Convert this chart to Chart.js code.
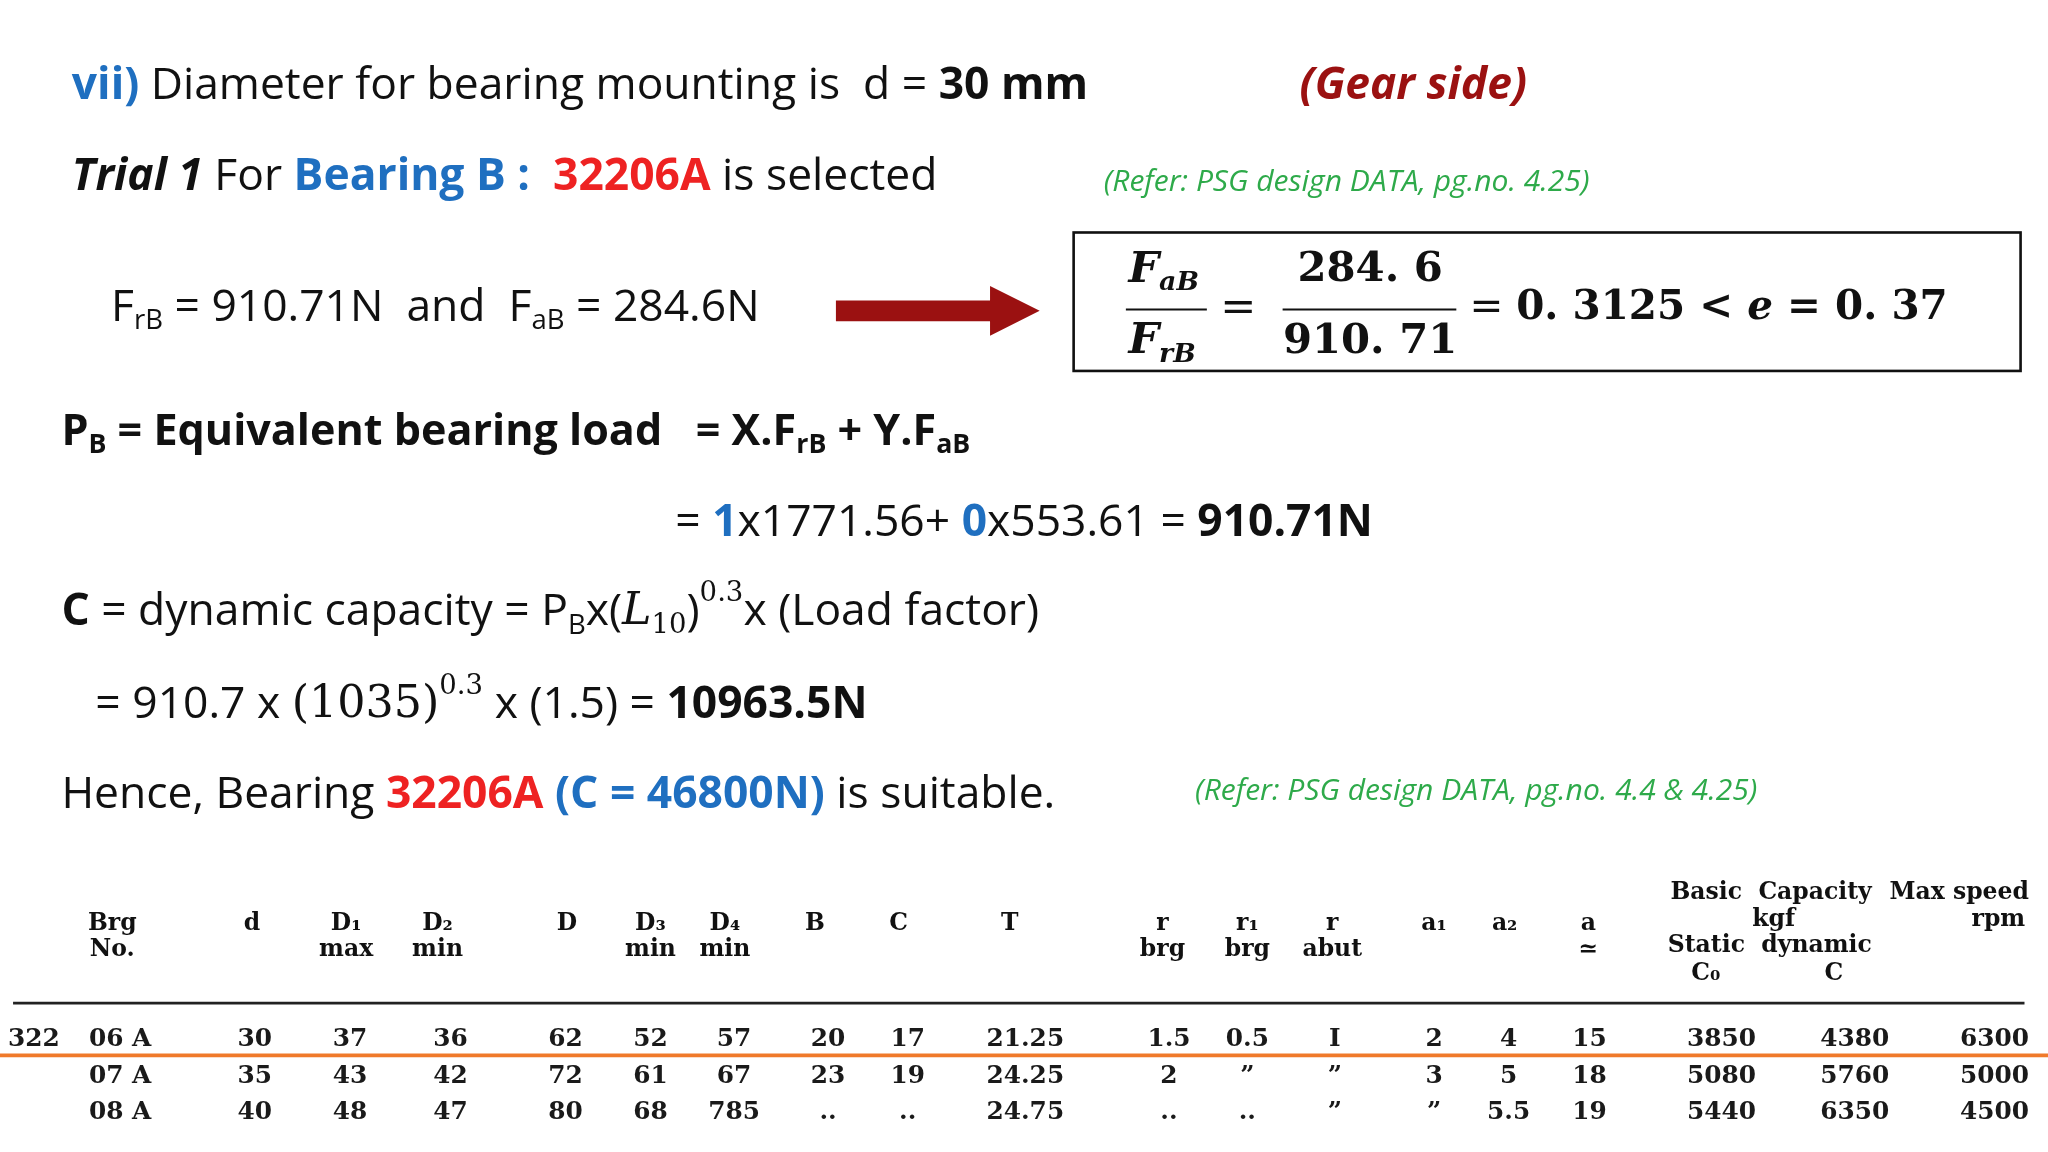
<!DOCTYPE html>
<html>
<head>
<meta charset="utf-8">
<script src="https://cdn.jsdelivr.net/npm/chart.js@4.4.1/dist/chart.umd.min.js"></script>
<style>
  html, body { margin: 0; padding: 0; background: #fff; }
  #wrap { width: 2048px; height: 1152px; }
</style>
</head>
<body>
<div id="wrap"><canvas id="slide"></canvas></div>
<script>
// bearing table rows (PSG data book, series 322)
const seriesNo = ["322", "", ""];
const boreCode = ["06 A", "07 A", "08 A"];
const dBore = ["30", "35", "40"];
const D1max = ["37", "43", "48"];
const D2min = ["36", "42", "47"];
const Douter = ["62", "72", "80"];
const D3min = ["52", "61", "68"];
const D4min = ["57", "67", "785"];
const Bw = ["20", "23", ".."];
const Cw = ["17", "19", ".."];
const Tw = ["21.25", "24.25", "24.75"];
const rBrg = ["1.5", "2", ".."];
const r1Brg = ["0.5", "\u201D", ".."];
const rAbut = ["I", "\u201D", "\u201D"];
const a1 = ["2", "3", "\u201D"];
const a2 = ["4", "5", "5.5"];
const aApprox = ["15", "18", "19"];
const staticC0 = ["3850", "5080", "5440"];
const dynamicC = ["4380", "5760", "6350"];
const maxSpeed = ["6300", "5000", "4500"];

const tableCols = [seriesNo, boreCode, dBore, D1max, D2min, Douter, D3min, D4min, Bw, Cw, Tw,
  rBrg, r1Brg, rAbut, a1, a2, aApprox, staticC0, dynamicC, maxSpeed];
const colX = [26, 92, 195, 268, 345, 433, 498, 562, 634, 695, 785, 895, 955, 1022, 1098, 1155, 1217, 1318, 1420, 1527];
const rowY = [796, 824, 852];

const BLUE = "#1f6fc0", RED = "#ee2222", DRED = "#9b1111", GREEN = "#2eaa4a";
const SANS = "'Open Sans', sans-serif";
const SERIF = "'DejaVu Serif', 'Liberation Serif', serif";

let sx, sy, k; // value -> pixel helpers, font scale

function rich(ctx, x, y, segs, size) {
  // segs: [text, {b, i, c, sub, sup, font}]
  let cx = sx(x);
  segs.forEach(([t, o]) => {
    o = o || {};
    let fs = size * ((o.sub || o.sup) ? 0.62 : 1);
    ctx.font = (o.i ? "italic " : "") + (o.b ? "bold " : "") + (fs * k) + "px " + (o.font || SANS);
    ctx.fillStyle = o.c || "#111";
    let dy = o.sub ? size * 0.3 : o.sup ? -size * 0.42 : 0;
    ctx.textBaseline = "middle";
    ctx.textAlign = "left";
    ctx.fillText(t, cx, sy(y + dy));
    cx += ctx.measureText(t).width;
  });
}

function txt(ctx, x, y, t, size, opts) {
  opts = opts || {};
  ctx.font = (opts.i ? "italic " : "") + (opts.b ? "bold " : "") + (size * k) + "px " + (opts.font || SANS);
  ctx.fillStyle = opts.c || "#111";
  ctx.textAlign = opts.align || "center";
  ctx.textBaseline = "middle";
  ctx.fillText(t, sx(x), sy(y));
}

const slidePlugin = {
  id: "slide",
  afterDraw(chart) {
    const ctx = chart.ctx, xs = chart.scales.x, ys = chart.scales.y;
    sx = v => xs.getPixelForValue(v);
    sy = v => ys.getPixelForValue(v);
    k = (sx(1568) - sx(0)) / 1568;
    ctx.save();

    rich(ctx, 55, 66, [["vii)", {b: 1, c: BLUE}], [" Diameter for bearing mounting is  d = "], ["30 mm", {b: 1}]], 34);
    rich(ctx, 995, 66, [["(Gear side)", {b: 1, i: 1, c: DRED}]], 34);

    rich(ctx, 55, 136, [["Trial 1", {b: 1, i: 1}], [" For "], ["Bearing B : ", {b: 1, c: BLUE}], [" 32206A", {b: 1, c: RED}], [" is selected"]], 34);
    rich(ctx, 845, 140, [["(Refer: PSG design DATA, pg.no. 4.25)", {i: 1, c: GREEN}]], 23);

    rich(ctx, 85, 236, [["F"], ["rB", {sub: 1}], [" = 910.71N  and  F"], ["aB", {sub: 1}], [" = 284.6N"]], 34);

    // arrow
    ctx.fillStyle = DRED;
    ctx.beginPath();
    ctx.moveTo(sx(640), sy(230)); ctx.lineTo(sx(758), sy(230)); ctx.lineTo(sx(758), sy(219));
    ctx.lineTo(sx(796), sy(238)); ctx.lineTo(sx(758), sy(257)); ctx.lineTo(sx(758), sy(246));
    ctx.lineTo(sx(640), sy(246)); ctx.closePath(); ctx.fill();

    // formula box
    ctx.strokeStyle = "#111"; ctx.lineWidth = 2 * k;
    ctx.strokeRect(sx(822), sy(178), sx(1547) - sx(822), sy(284) - sy(178));
    ctx.lineWidth = 1.5 * k;
    ctx.beginPath(); ctx.moveTo(sx(862), sy(237)); ctx.lineTo(sx(924), sy(237));
    ctx.moveTo(sx(982), sy(237)); ctx.lineTo(sx(1115), sy(237)); ctx.stroke();
    rich(ctx, 864, 207, [["F", {b: 1, i: 1, font: SERIF}], ["aB", {b: 1, i: 1, font: SERIF, sub: 1}]], 33);
    rich(ctx, 864, 262, [["F", {b: 1, i: 1, font: SERIF}], ["rB", {b: 1, i: 1, font: SERIF, sub: 1}]], 33);
    txt(ctx, 948, 237, "=", 33, {font: SERIF});
    txt(ctx, 1049, 207, "284. 6", 32, {b: 1, font: SERIF});
    txt(ctx, 1049, 262, "910. 71", 32, {b: 1, font: SERIF});
    rich(ctx, 1125, 236, [["= ", {font: SERIF}], ["0. 3125 < ", {b: 1, font: SERIF}], ["e", {b: 1, i: 1, font: SERIF}], [" = 0. 37", {b: 1, font: SERIF}]], 31);

    rich(ctx, 47, 331, [["P", {b: 1}], ["B", {b: 1, sub: 1}], [" = Equivalent bearing load   = X.F", {b: 1}], ["rB", {b: 1, sub: 1}], [" + Y.F", {b: 1}], ["aB", {b: 1, sub: 1}]], 33);
    rich(ctx, 517, 401, [["= "], ["1", {c: BLUE, b: 1}], ["x1771.56+ "], ["0", {c: BLUE, b: 1}], ["x553.61 = "], ["910.71N", {b: 1}]], 34);
    rich(ctx, 47, 469, [["C", {b: 1}], [" = dynamic capacity = P"], ["B", {sub: 1}], ["x("], ["L", {i: 1, font: SERIF}], ["10", {sub: 1, font: SERIF}], [")"], ["0.3", {sup: 1, font: SERIF}], ["x (Load factor)"]], 34);
    rich(ctx, 73, 540, [["= 910.7 x "], ["(1035)", {font: SERIF}], ["0.3", {sup: 1, font: SERIF}], [" x (1.5) = "], ["10963.5N", {b: 1}]], 34);
    rich(ctx, 47, 609, [["Hence, Bearing "], ["32206A", {b: 1, c: RED}], [" (C = 46800N)", {b: 1, c: BLUE}], [" is suitable."]], 34);
    rich(ctx, 915, 606, [["(Refer: PSG design DATA, pg.no. 4.4 & 4.25)", {i: 1, c: GREEN}]], 23);

    // table headers
    const H = {b: 1, font: SERIF};
    const hs = 18;
    [["Brg", 86, 707], ["No.", 86, 727], ["d", 193, 707], ["D\u2081", 265, 707], ["max", 265, 727],
     ["D\u2082", 335, 707], ["min", 335, 727], ["D", 434, 707], ["D\u2083", 498, 707], ["min", 498, 727],
     ["D\u2084", 555, 707], ["min", 555, 727], ["B", 624, 707], ["C", 688, 707], ["T", 773, 707],
     ["r", 890, 707], ["brg", 890, 727], ["r\u2081", 955, 707], ["brg", 955, 727], ["r", 1020, 707], ["abut", 1020, 727],
     ["a\u2081", 1098, 707], ["a\u2082", 1152, 707], ["a", 1216, 707], ["\u2243", 1216, 727],
     ["Basic  Capacity", 1356, 684], ["kgf", 1358, 704], ["Static  dynamic", 1355, 724],
     ["C\u2080", 1306, 746], ["C", 1404, 746], ["Max speed", 1500, 684], ["rpm", 1530, 704]
    ].forEach(([t, x, y]) => txt(ctx, x, y, t, hs, H));

    ctx.strokeStyle = "#222"; ctx.lineWidth = 2 * k;
    ctx.beginPath(); ctx.moveTo(sx(10), sy(768)); ctx.lineTo(sx(1550), sy(768)); ctx.stroke();
    ctx.strokeStyle = "#f07a2a"; ctx.lineWidth = 3 * k;
    ctx.beginPath(); ctx.moveTo(sx(0), sy(808)); ctx.lineTo(sx(1568), sy(808)); ctx.stroke();

    tableCols.forEach((col, ci) => col.forEach((v, ri) => {
      if (v) txt(ctx, colX[ci], rowY[ri], v, 19, {b: 1, font: SERIF, c: "#1a1a1a"});
    }));
    ctx.restore();
  }
};

new Chart(document.getElementById("slide"), {
  type: "scatter",
  data: { datasets: [{ data: [], pointRadius: 0 }] },
  options: {
    responsive: true,
    maintainAspectRatio: false,
    animation: false,
    layout: { padding: 0 },
    plugins: { legend: { display: false }, tooltip: { enabled: false } },
    scales: {
      x: { type: "linear", min: 0, max: 1568, display: false },
      y: { type: "linear", min: 0, max: 882, reverse: true, display: false }
    }
  },
  plugins: [slidePlugin]
});
</script>
</body>
</html>
